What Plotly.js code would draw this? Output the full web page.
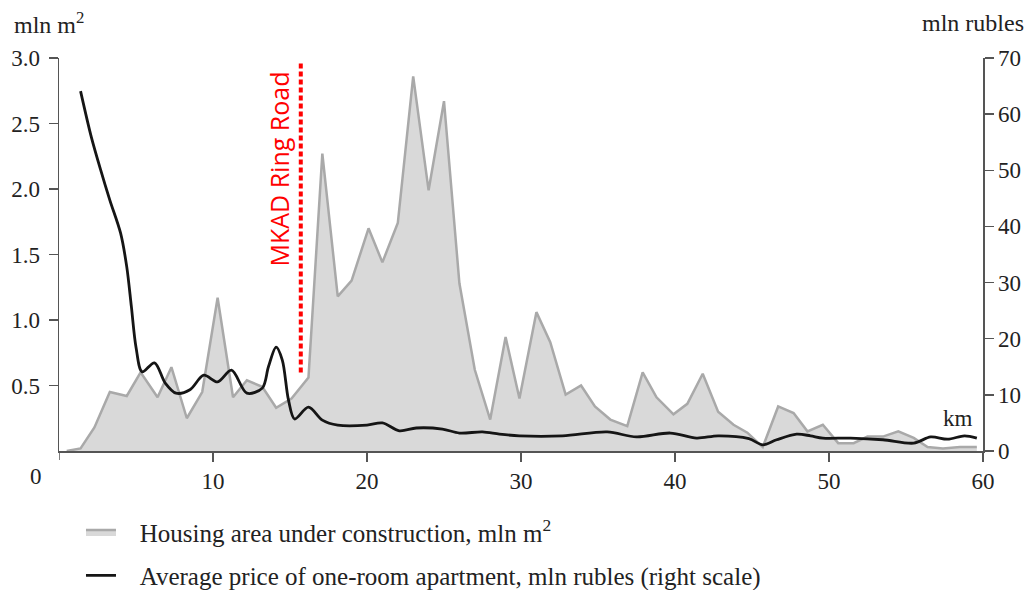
<!DOCTYPE html>
<html>
<head>
<meta charset="utf-8">
<script src="https://cdn.plot.ly/plotly-3.0.1.min.js"></script>
<style>
  html, body { margin: 0; padding: 0; background: #ffffff; }
  #chart { width: 1031px; height: 590px; }
</style>
</head>
<body>
<div id="chart"></div>
<script>
// Housing area under construction (mln m2, left scale) by distance from centre (km)
const kmArea = [0.5, 1.4, 2.3, 3.3, 4.4, 5.3, 6.4, 7.3, 8.3, 9.3, 10.3, 11.3, 12.2, 13.2, 14.1,
  15.1, 16.2, 17.1, 18.1, 19.0, 20.1, 21.0, 22.0, 23.0, 24.0, 25.0, 26.0, 27.0, 28.0, 29.0,
  29.9, 31.0, 31.9, 32.9, 33.9, 34.8, 35.8, 36.9, 37.9, 38.8, 39.9, 40.8, 41.8, 42.8, 43.8,
  44.7, 45.7, 46.7, 47.7, 48.6, 49.6, 50.6, 51.6, 52.5, 53.5, 54.5, 55.5, 56.4, 57.4, 58.5, 59.6];
const housingArea = [0, 0.02, 0.18, 0.45, 0.42, 0.60, 0.41, 0.64, 0.25, 0.45, 1.17, 0.41, 0.54, 0.49, 0.33,
  0.40, 0.56, 2.27, 1.18, 1.30, 1.70, 1.44, 1.74, 2.86, 1.99, 2.67, 1.28, 0.62, 0.24, 0.87,
  0.40, 1.06, 0.83, 0.43, 0.50, 0.34, 0.24, 0.19, 0.60, 0.41, 0.28, 0.36, 0.59, 0.30, 0.20,
  0.14, 0.03, 0.34, 0.29, 0.15, 0.20, 0.06, 0.06, 0.11, 0.11, 0.15, 0.10, 0.03, 0.02, 0.03, 0.03];

// Average price of one-room apartment (mln rubles, right scale)
const kmPrice = [1.4, 2.1, 2.7, 3.3, 4.0, 4.4, 4.7, 5.0, 5.4, 6.2, 6.9, 7.6, 8.5, 9.4, 10.3,
  11.2, 12.2, 13.2, 13.6, 14.1, 14.5, 14.9, 15.3, 16.2, 17.1, 18.1, 20.0, 21.0, 22.1, 23.2,
  24.9, 26.0, 27.5, 28.6, 29.9, 32.7, 35.6, 37.5, 39.7, 41.4, 42.8, 44.8, 45.7, 46.6, 47.9,
  48.8, 49.6, 51.4, 53.5, 55.5, 56.6, 57.7, 58.8, 59.6];
const avgPrice = [64.1, 55.9, 50.1, 44.7, 38.8, 32.8, 25.7, 18.5, 14.1, 15.7, 12.1, 10.3, 10.9, 13.5, 12.3,
  14.4, 10.3, 11.2, 15.0, 18.5, 16.2, 9.1, 5.7, 7.8, 5.5, 4.6, 4.6, 5.0, 3.6, 4.1,
  3.9, 3.2, 3.4, 3.0, 2.7, 2.7, 3.4, 2.5, 3.2, 2.3, 2.7, 2.2, 1.1, 2.0, 3.0,
  2.7, 2.3, 2.3, 2.0, 1.4, 2.5, 2.1, 2.7, 2.3];

// Axis ticks
const xTickVals = [10, 20, 30, 40, 50, 60];
const yLeftTickVals = [0.5, 1.0, 1.5, 2.0, 2.5, 3.0];
const yLeftTickText = ['0.5', '1.0', '1.5', '2.0', '2.5', '3.0'];
const yRightTickVals = [0, 10, 20, 30, 40, 50, 60, 70];

// Series names (legend)
const nameArea = 'Housing area under construction, mln m<sup>2</sup>';
const namePrice = 'Average price of one-room apartment, mln rubles (right scale)';

// MKAD ring road position (km)
const mkadKm = 15.7;

const serif = 'Liberation Serif, Times New Roman, serif';
const txt = '#222';
const axCol = '#555';
const gap = '\u00A0\u00A0\u00A0';

const traces = [
  {
    x: kmArea, y: housingArea, type: 'scatter', mode: 'lines',
    fill: 'tozeroy', fillcolor: '#d9d9d9',
    line: { color: '#a9a9a9', width: 2.5 },
    name: gap + nameArea,
    legendgroup: 'a', yaxis: 'y', hoverinfo: 'skip'
  },
  {
    x: kmPrice, y: avgPrice, type: 'scatter', mode: 'lines',
    line: { color: '#151515', width: 2.8, shape: 'spline', smoothing: 0.9 },
    name: gap + namePrice,
    legendgroup: 'b', yaxis: 'y2', hoverinfo: 'skip'
  }
];

const layout = {
  width: 1031, height: 590,
  paper_bgcolor: '#ffffff', plot_bgcolor: 'rgba(0,0,0,0)',
  margin: { l: 59, r: 48, t: 58, b: 139, pad: 0, autoexpand: false },
  font: { family: serif, color: txt, size: 23 },
  showlegend: true,
  legend: {
    x: 0.0238, xanchor: 'left', y: -0.148, yanchor: 'top',
    orientation: 'v', traceorder: 'grouped', tracegroupgap: 8,
    itemwidth: 30, bgcolor: 'rgba(0,0,0,0)',
    font: { family: serif, size: 25, color: txt }
  },
  xaxis: {
    range: [0, 60], tickvals: xTickVals,
    ticks: 'outside', ticklen: 9, tickwidth: 1.5, tickcolor: axCol,
    showline: true, linecolor: axCol, linewidth: 1.5,
    showgrid: false, zeroline: false,
    tickfont: { family: serif, size: 23, color: txt }
  },
  yaxis: {
    range: [0, 3], tickvals: yLeftTickVals, ticktext: yLeftTickText,
    ticks: 'outside', ticklen: 9, tickwidth: 1.5, tickcolor: axCol,
    showline: true, linecolor: axCol, linewidth: 1.5,
    showgrid: false, zeroline: false, ticklabelstandoff: 4,
    tickfont: { family: serif, size: 23, color: txt }
  },
  yaxis2: {
    range: [0, 70], tickvals: yRightTickVals, overlaying: 'y', side: 'right',
    ticks: 'outside', ticklen: 9, tickwidth: 1.5, tickcolor: axCol,
    showline: true, linecolor: axCol, linewidth: 1.5,
    showgrid: false, zeroline: false,
    tickfont: { family: serif, size: 23, color: txt }
  },
  shapes: [
    {
      type: 'line', xref: 'x', yref: 'y', x0: mkadKm, x1: mkadKm, y0: 0.6, y1: 2.98,
      line: { color: '#ff0000', width: 4, dash: '5px,3px' }
    },
    {
      type: 'line', xref: 'x', yref: 'paper', x0: 0, x1: 0, y0: 0, y1: -0.023,
      line: { color: axCol, width: 1.5 }
    }
  ],
  annotations: [
    {
      text: 'MKAD Ring Road', xref: 'x', yref: 'y', x: 14.3, y: 2.15,
      textangle: -90, showarrow: false,
      font: { family: 'Open Sans, Noto Sans, sans-serif', size: 25, color: '#ff0000' }
    },
    {
      text: 'mln m<sup>2</sup>', xref: 'paper', yref: 'paper', x: -0.051, y: 1.09,
      xanchor: 'left', yanchor: 'middle', showarrow: false,
      font: { family: serif, size: 24, color: txt }
    },
    {
      text: 'mln rubles', xref: 'paper', yref: 'paper', x: 1.0465, y: 1.09,
      xanchor: 'right', yanchor: 'middle', showarrow: false,
      font: { family: serif, size: 24, color: txt }
    },
    {
      text: 'km', xref: 'x', yref: 'y', x: 58.4, y: 0.25,
      showarrow: false,
      font: { family: serif, size: 23, color: txt }
    },
    {
      text: '0', xref: 'paper', yref: 'paper', x: -0.025, y: -0.066,
      xanchor: 'center', yanchor: 'middle', showarrow: false,
      font: { family: serif, size: 23, color: txt }
    }
  ]
};

Plotly.newPlot('chart', traces, layout, { staticPlot: true, displayModeBar: false });
</script>
</body>
</html>
